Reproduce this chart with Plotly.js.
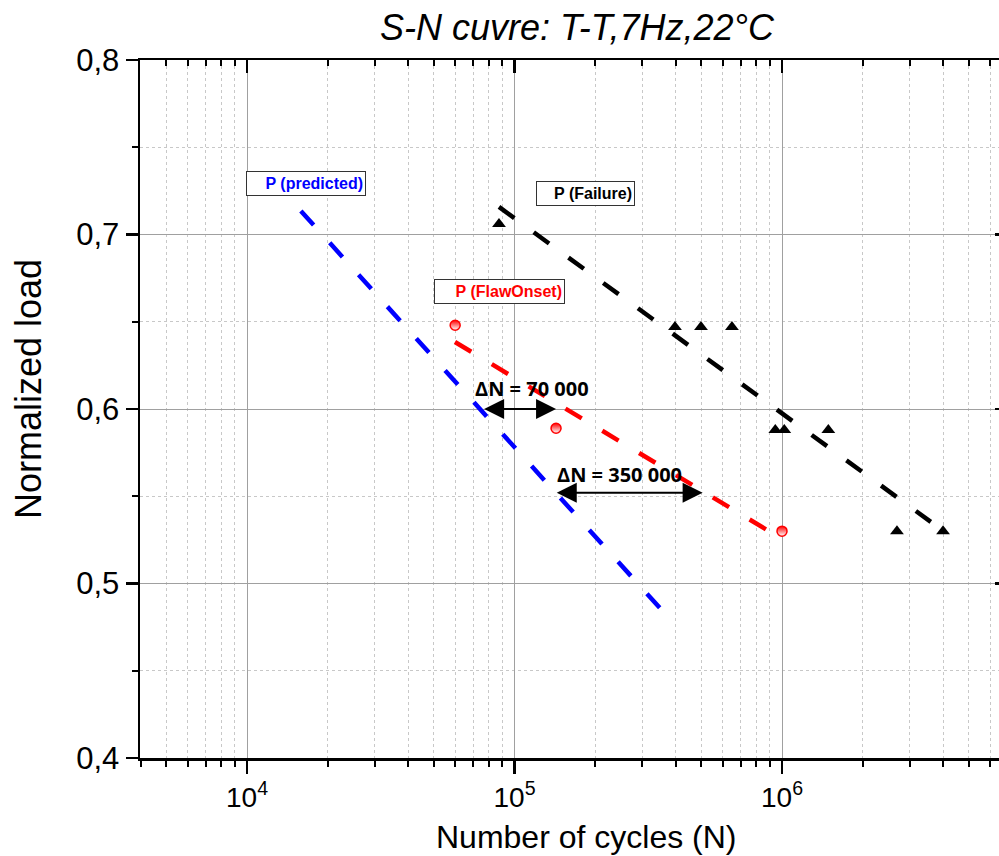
<!DOCTYPE html>
<html>
<head>
<meta charset="utf-8">
<script src="https://cdn.plot.ly/plotly-3.0.1.min.js"></script>
<style>
html,body{margin:0;padding:0;overflow:hidden;background:#fff;}
#chart{width:1002px;height:856px;}
</style>
</head>
<body>
<div id="chart"></div>
<script>
// ---- data ----
var failureN    = [87500, 398000, 498000, 650000, 944000, 1020000, 1490000, 2690000, 4000000];
var failureLoad = [0.706, 0.647, 0.647, 0.647, 0.588, 0.588, 0.588, 0.53, 0.53];

var flawN    = [60000, 143000, 1000000];
var flawLoad = [0.648, 0.589, 0.53];

var predLineN    = [15900, 374000];
var predLineLoad = [0.7135, 0.481];

var flawLineN    = [59900, 916000];
var flawLineLoad = [0.6384, 0.529];

var failLineN    = [87500, 3600000];
var failLineLoad = [0.7158, 0.5353];

var delta1N = [76000, 143000];   var delta1Load = 0.6;
var delta2N = [142000, 505000];  var delta2Load = 0.552;

var labelPred = "P (predicted)";
var labelFail = "P (Failure)";
var labelFlaw = "P (FlawOnset)";
var delta1Text = "ΔN = 70 000";
var delta2Text = "ΔN = 350 000";

var titleText = "S-N cuvre: T-T,7Hz,22°C";
var xTitleText = "Number of cycles (N)";
var yTitleText = "Normalized load";

var xMajorVals = [1e4, 1e5, 1e6];
var xMajorText = ["10<sup>4</sup>", "10<sup>5</sup>", "10<sup>6</sup>"];

// ---- axis helpers ----
var xRange = [Math.log10(3981), 6.8187];
var xMinorVals = [];
[3,4,5,6].forEach(function(d){
  for (var m = 2; m <= 9; m++) {
    var v = m * Math.pow(10, d);
    var lv = Math.log10(v);
    if (lv >= xRange[0] - 1e-6 && lv <= xRange[1]) xMinorVals.push(v);
  }
});

var FONT = "Liberation Sans, Arial, sans-serif";
var dashPat = "19px,24px";
var W = 1002, H = 856;

var traces = [
  {x: predLineN, y: predLineLoad, mode: "lines", type: "scatter",
   line: {color: "#0000ff", width: 4.5, dash: dashPat}, hoverinfo: "skip"},
  {x: flawLineN, y: flawLineLoad, mode: "lines", type: "scatter",
   line: {color: "#ff0000", width: 4.5, dash: dashPat}, hoverinfo: "skip"},
  {x: failLineN, y: failLineLoad, mode: "lines", type: "scatter",
   line: {color: "#000000", width: 4.5, dash: dashPat}, hoverinfo: "skip"},
  {x: failureN, y: failureLoad, mode: "markers", type: "scatter",
   marker: {symbol: "triangle-up", size: 12, color: "#000000"}},
  {x: flawN, y: flawLoad, mode: "markers", type: "scatter",
   marker: {symbol: "circle", size: 10, color: "#ff0000",
            gradient: {type: "vertical", color: "#ffffff"},
            line: {color: "#ff0000", width: 1.5}}},
  {x: [xMajorVals[0]], y: [0.6], xaxis: "x2", yaxis: "y2", mode: "markers",
   marker: {opacity: 0}, hoverinfo: "skip"}
];

function boxLabel(text, color, xv, yv, w) {
  return {text: "<b>" + text + "</b>", x: Math.log10(xv), y: yv, xref: "x", yref: "y",
    showarrow: false, font: {family: FONT, size: 16, color: color},
    bgcolor: "#ffffff", bordercolor: "#333333", borderwidth: 1, borderpad: 2,
    width: w, height: 19, align: "right", xanchor: "center", yanchor: "middle"};
}
function dArrow(ns, yv) {
  return {x: Math.log10(ns[1]), y: yv, ax: Math.log10(ns[0]), ay: yv,
    xref: "x", yref: "y", axref: "x", ayref: "y", text: "",
    showarrow: true, arrowhead: 2, startarrowhead: 2, arrowside: "end+start",
    arrowsize: 2, startarrowsize: 2, arrowwidth: 2, arrowcolor: "#000000", standoff: 0, startstandoff: 0};
}
function dText(text, xv, yv) {
  return {text: "<b>" + text + "</b>", x: Math.log10(xv), y: yv, xref: "x", yref: "y",
    showarrow: false, font: {family: "Open Sans, sans-serif", size: 20, color: "#000000"},
    xanchor: "center", yanchor: "middle"};
}

var annotations = [
  boxLabel(labelPred, "#0000ff", 16620, 0.7292, 114),
  boxLabel(labelFail, "#000000", 183700, 0.7236, 93),
  boxLabel(labelFlaw, "#ff0000", 88200, 0.6674, 125),
  dArrow(delta1N, delta1Load),
  dArrow(delta2N, delta2Load),
  dText(delta1Text, 115900, 0.6115),
  dText(delta2Text, 246600, 0.5622),
  {text: xTitleText, xref: "paper", yref: "paper", x: (586 - 140) / 861, y: -(837 - 758) / 698,
   xanchor: "center", yanchor: "middle", showarrow: false,
   font: {family: FONT, size: 32, color: "#000000"}},
  {text: yTitleText, xref: "paper", yref: "paper", x: (29 - 140) / 861, y: (758 - 389) / 698,
   xanchor: "center", yanchor: "middle", showarrow: false, textangle: -90,
   font: {family: FONT, size: 36, color: "#000000"}}
];

var layout = {
  width: W, height: H,
  margin: {l: 140, r: 1, t: 60, b: 98},
  paper_bgcolor: "#ffffff", plot_bgcolor: "#ffffff",
  showlegend: false,
  separators: ",.",
  font: {family: FONT, color: "#000000"},
  title: {text: "<i>" + titleText + "</i>", font: {family: FONT, size: 36, color: "#000000"},
          xref: "container", x: 577 / W, xanchor: "center", yref: "container", y: 1 - 27 / H, yanchor: "middle"},
  xaxis: {type: "log", range: xRange, tickmode: "array", tickvals: xMajorVals, ticktext: xMajorText,
          ticks: "outside", ticklen: 13, tickwidth: 2.5, tickcolor: "#000000",
          tickfont: {family: FONT, size: 28, color: "#000000"},
          showline: true, linecolor: "#000000", linewidth: 2.5,
          showgrid: true, gridcolor: "#a0a0a0", gridwidth: 1, zeroline: false,
          minor: {tickmode: "array", tickvals: xMinorVals, ticks: "outside", ticklen: 6, tickwidth: 2,
                  tickcolor: "#000000", showgrid: true, gridcolor: "#c8c8c8", gridwidth: 1, griddash: "3px,3px"},
          fixedrange: true},
  yaxis: {range: [0.4, 0.8], dtick: 0.1, tick0: 0.4, tickformat: ".1f",
          ticks: "outside", ticklen: 12, tickwidth: 2.5, tickcolor: "#000000",
          tickfont: {family: FONT, size: 31, color: "#000000"},
          showline: true, linecolor: "#000000", linewidth: 2.5,
          showgrid: true, gridcolor: "#a0a0a0", gridwidth: 1, zeroline: false,
          minor: {dtick: 0.05, ticks: "outside", ticklen: 6, tickwidth: 2, tickcolor: "#000000",
                  showgrid: true, gridcolor: "#c8c8c8", gridwidth: 1, griddash: "3px,3px"},
          fixedrange: true},
  xaxis2: {type: "log", range: xRange, overlaying: "x", side: "top", anchor: "y2",
           tickmode: "array", tickvals: xMajorVals, ticks: "inside", ticklen: 13, tickwidth: 2.5,
           tickcolor: "#000000", showticklabels: false, showgrid: false, zeroline: false,
           showline: true, linecolor: "#000000", linewidth: 2.5,
           minor: {tickmode: "array", tickvals: xMinorVals, ticks: "inside", ticklen: 6, tickwidth: 2,
                   tickcolor: "#000000", showgrid: false}, fixedrange: true},
  yaxis2: {range: [0.4, 0.8], overlaying: "y", side: "right", anchor: "x2", dtick: 0.1, tick0: 0.4,
           ticks: "inside", ticklen: 6, tickwidth: 2.5, tickcolor: "#000000",
           showticklabels: false, showgrid: false, zeroline: false,
           showline: true, linecolor: "#000000", linewidth: 2.5, fixedrange: true},
  annotations: annotations
};

Plotly.newPlot("chart", traces, layout, {staticPlot: true, displayModeBar: false});
</script>
</body>
</html>
